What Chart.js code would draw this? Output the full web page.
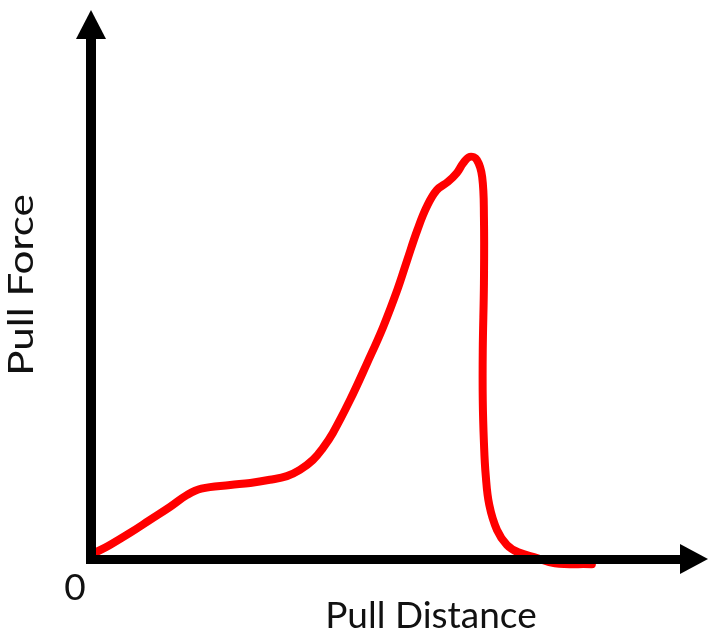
<!DOCTYPE html>
<html>
<head>
<meta charset="utf-8">
<script src="https://cdn.jsdelivr.net/npm/chart.js@4.4.1/dist/chart.umd.min.js"></script>
<style>
    html, body { margin: 0; padding: 0; background: #fff; }
    #wrap { width: 721px; height: 635px; }
</style>
</head>
<body>
<div id="wrap"><canvas id="chartPull"></canvas></div>
<script>
// pull distance (x) and pull force (y)
const distancia = [0.7, 3.2, 6.6, 10.0, 13.4, 16.3, 18.7, 23.6, 27.0, 30.3, 33.2, 35.4, 37.6, 39.3, 41.0, 43.9, 46.8, 49.5, 51.9, 53.6, 55.3, 56.9, 58.6, 60.5, 62.0, 63.1, 64.2, 65.4, 66.3, 66.6, 66.6, 66.4, 66.4, 66.6, 66.9, 67.5, 68.8, 70.5, 72.4, 75.6, 78.6, 84.9];
const fuerza = [1.2, 2.7, 5.0, 7.5, 10.0, 12.3, 13.5, 14.2, 14.6, 15.2, 15.9, 17.1, 19.0, 21.3, 24.2, 30.5, 37.6, 44.5, 51.6, 57.4, 63.1, 67.6, 70.8, 72.4, 74.1, 76.0, 77.2, 76.6, 73.3, 65.6, 53.0, 40.1, 30.5, 22.3, 16.1, 10.4, 5.6, 2.7, 1.3, 0.2, -0.8, -1.0];
const etiquetaX = 'Pull Distance';
const etiquetaY = 'Pull Force';
const etiquetaCero = '0';

const _puntos = distancia.map(function (d, i) { return { x: d, y: fuerza[i] }; });

// axes with arrow heads, drawn over the curve
const ejesFlecha = {
    id: 'ejesFlecha',
    afterDatasetsDraw: function (chart) {
        const ctx = chart.ctx;
        const a = chart.chartArea;
        const x0 = chart.scales.x.getPixelForValue(0);
        const y0 = chart.scales.y.getPixelForValue(0);
        ctx.save();
        ctx.fillStyle = '#000';
        // y axis shaft + head
        ctx.fillRect(x0 - 5, a.top, 10, y0 - a.top + 5);
        ctx.beginPath();
        ctx.moveTo(x0, a.top - 28);
        ctx.lineTo(x0 + 15, a.top + 1);
        ctx.lineTo(x0 - 15, a.top + 1);
        ctx.closePath();
        ctx.fill();
        // x axis shaft + head
        ctx.fillRect(x0 - 5, y0 - 4, a.right - x0 + 5, 9);
        ctx.beginPath();
        ctx.moveTo(a.right + 27, y0);
        ctx.lineTo(a.right - 1, y0 - 15);
        ctx.lineTo(a.right - 1, y0 + 15);
        ctx.closePath();
        ctx.fill();

        ctx.fillStyle = '#111';
        ctx.font = '37px Lato';
        ctx.textAlign = 'center';
        ctx.textBaseline = 'alphabetic';
        ctx.fillText(etiquetaX, 431, 628);
        ctx.fillText(etiquetaCero, 75, 600);
        ctx.translate(33, 285);
        ctx.rotate(-Math.PI / 2);
        ctx.scale(1.24, 1);
        ctx.font = '34px Lato';
        ctx.fillText(etiquetaY, 0, 0);
        ctx.restore();
    }
};

new Chart(document.getElementById('chartPull').getContext('2d'), {
    type: 'line',
    data: {
        datasets: [{
            data: _puntos,
            borderColor: '#ff0000',
            backgroundColor: '#ff0000',
            borderWidth: 8,
            pointRadius: 0,
            tension: 0.4,
            borderCapStyle: 'round',
            borderJoinStyle: 'round',
            clip: false
        }]
    },
    options: {
        responsive: true,
        maintainAspectRatio: false,
        animation: false,
        layout: { padding: { left: 91, right: 40, top: 38, bottom: 76 } },
        plugins: {
            legend: { display: false },
            tooltip: { enabled: false }
        },
        scales: {
            x: { type: 'linear', min: 0, max: 100, display: false },
            y: { type: 'linear', min: 0, max: 100, display: false }
        }
    },
    plugins: [ejesFlecha]
});
</script>
</body>
</html>
